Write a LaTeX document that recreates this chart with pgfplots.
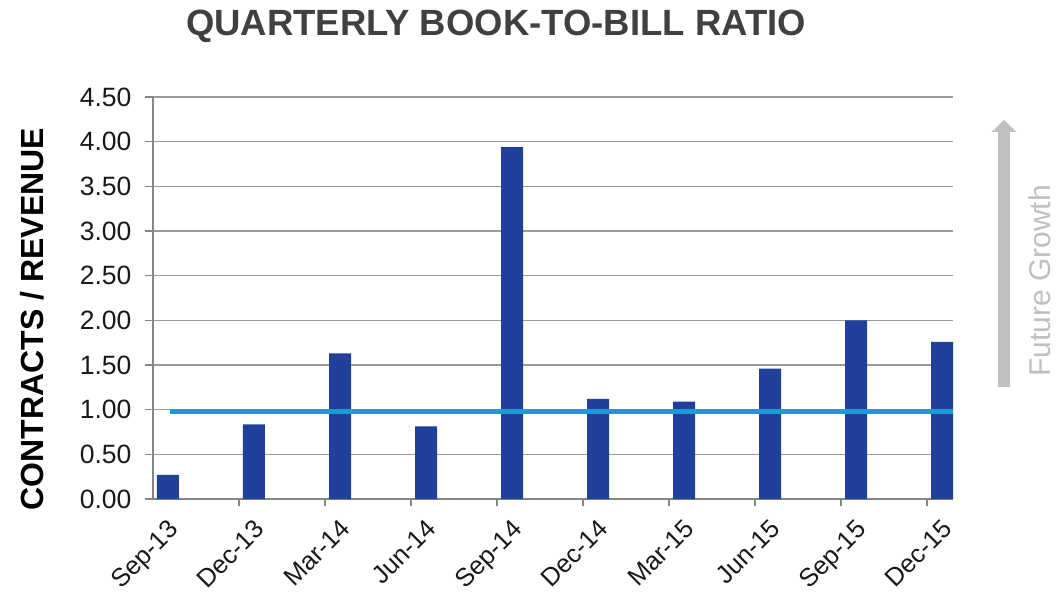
\documentclass[border=0pt]{standalone}
\usepackage{pgfplots}
\pgfplotsset{compat=1.18}
\usepackage{fontspec}
\setmainfont{Liberation Sans}
\usetikzlibrary{arrows.meta}
\definecolor{barblue}{HTML}{1F419B}
\definecolor{lineblue}{HTML}{1B9AD6}
\definecolor{gridgray}{HTML}{9A9A9A}
\definecolor{axisgray}{HTML}{858585}
\definecolor{titlegray}{HTML}{404040}
\definecolor{arrowgray}{HTML}{BFBFBF}
\begin{document}
\begin{tikzpicture}[x=1pt,y=1pt]
\useasboundingbox (-153,-95) rectangle (906,499);
\begin{axis}[
  at={(0,0)}, anchor=south west,
  width=800pt, height=402pt, scale only axis,
  xmin=0, xmax=9.3, ymin=0, ymax=4.5,
  clip=false,
  axis x line*=bottom, axis y line*=left,
  axis line style={draw=axisgray, line width=2pt, -},
  ytick={0,0.5,...,4.5},
  ymajorgrids, grid style={gridgray, line width=1.5pt},
  tick align=outside,
  major tick length=8pt, minor tick length=7pt,
  tick style={axisgray, line width=1.5pt},
  every major x tick/.append style={draw=none},
  xtick={0.174,1.174,2.174,3.174,4.174,5.174,6.174,7.174,8.174,9.174},
  xticklabels={Sep-13,Dec-13,Mar-14,Jun-14,Sep-14,Dec-14,Mar-15,Jun-15,Sep-15,Dec-15},
  minor xtick={1,2,3,4,5,6,7,8,9},
  xticklabel style={font=\fontsize{25.5}{25.5}\selectfont, rotate=45, anchor=north east, color=black!90, xshift=-5pt, yshift=-4pt},
  yticklabel style={font=\fontsize{26.5}{26.5}\selectfont, color=black!90, xshift=-10pt, /pgf/number format/.cd, fixed, fixed zerofill, precision=2, assume math mode=true},
]
\addplot[ybar, bar width=22pt, fill=barblue, draw=none] coordinates {
  (0.174,0.27) (1.174,0.836) (2.174,1.63) (3.174,0.814) (4.174,3.94)
  (5.174,1.12) (6.174,1.09) (7.174,1.46) (8.174,2.00) (9.174,1.76)};
\addplot[lineblue, line width=5pt] coordinates {(0.2,0.985) (9.3,0.985)};
\end{axis}
\node[font=\bfseries\fontsize{36.5}{36.5}\selectfont, color=titlegray] at (343,473) {QUARTERLY BOOK-TO-BILL RATIO};
\node[rotate=90, font=\bfseries\fontsize{32}{32}\selectfont, color=black] at (-121,180) {CONTRACTS / REVENUE};
\draw[arrowgray, line width=12pt, -{Triangle[width=24pt,length=12pt]}] (851,112) -- (851,379);
\node[rotate=90, font=\fontsize{30}{30}\selectfont, color=arrowgray] at (887,218) {Future Growth};
\end{tikzpicture}
\end{document}
